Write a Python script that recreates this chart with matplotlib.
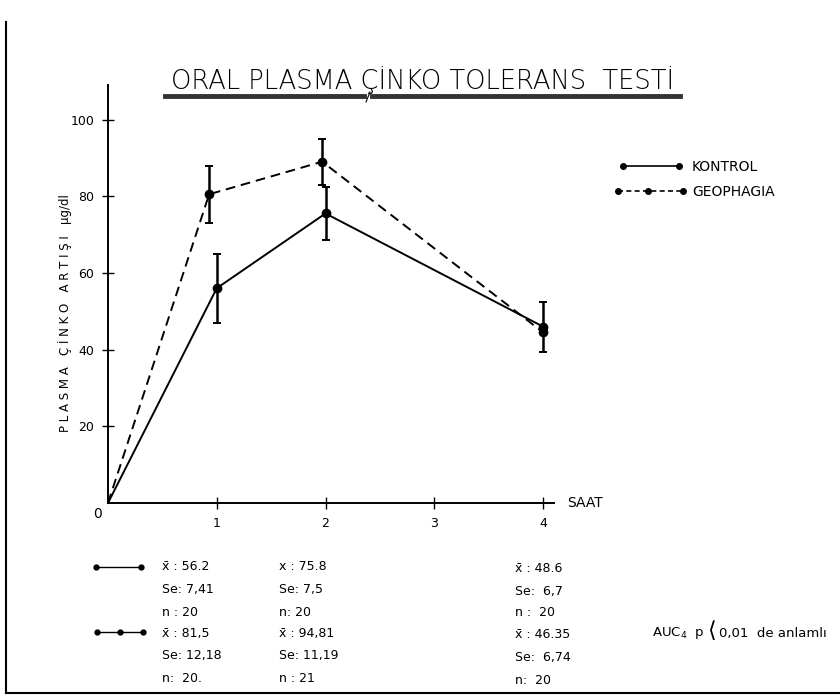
import matplotlib.pyplot as plt
from matplotlib.lines import Line2D

plt.rcParams['font.family'] = ['DejaVu Sans']

# hours and plotted values
kontrol_x = [0, 1, 2, 4]
kontrol_y = [0, 56, 75.5, 46]
kontrol_err = [0, 9, 7, 6.5]

geo_x = [0, 0.93, 1.97, 4]
geo_y = [0, 80.5, 89, 44.5]
geo_err = [0, 7.5, 6, 0]

y_ticks = [20, 40, 60, 80, 100]
x_ticks = [1, 2, 3, 4]

# summary statistics under the chart
kontrol_stats = [["x̄ : 56.2", "Se: 7,41", "n : 20"],
                 ["x : 75.8", "Se: 7,5", "n: 20"],
                 ["x̄ : 48.6", "Se:  6,7", "n :  20"]]
geo_stats = [["x̄ : 81,5", "Se: 12,18", "n:  20."],
             ["x̄ : 94,81", "Se: 11,19", "n : 21"],
             ["x̄ : 46.35", "Se:  6,74", "n:  20"]]

W, H = 840, 700
fig = plt.figure(figsize=(8.4, 7), dpi=100)


def fx(px):
    return px / W


def fy(py):
    return 1 - py / H


ax = fig.add_axes([fx(108), fy(503), 4.1 * 108.75 / W, 418 / H])
ax.set_xlim(0, 4.1)
ax.set_ylim(0, 109)

ax.plot(kontrol_x, kontrol_y, color='black', lw=1.4, marker='o', ms=6,
        markevery=[1, 2, 3], clip_on=False)
ax.errorbar(kontrol_x[1:], kontrol_y[1:], yerr=kontrol_err[1:], fmt='none',
            ecolor='black', elinewidth=1.8, capsize=3, capthick=1.4)
ax.plot(geo_x, geo_y, color='black', lw=1.4, ls=(0, (5, 3)), marker='o', ms=6,
        markevery=[1, 2, 3], clip_on=False)
ax.errorbar(geo_x[1:3], geo_y[1:3], yerr=geo_err[1:3], fmt='none',
            ecolor='black', elinewidth=1.8, capsize=3, capthick=1.4)

for s in ['top', 'right']:
    ax.spines[s].set_visible(False)
for s in ['left', 'bottom']:
    ax.spines[s].set_linewidth(1.4)

ax.set_yticks(y_ticks)
ax.set_yticklabels([str(v) for v in y_ticks])
ax.set_xticks(x_ticks)
ax.set_xticklabels([str(v) for v in x_ticks])
ax.tick_params(direction='inout', length=8, width=1, labelsize=9, pad=6)
ax.text(-0.06, -1, "0", ha='right', va='top', fontsize=10, clip_on=False)
ax.text(4.22, 0, "SAAT", ha='left', va='center', fontsize=10, clip_on=False)

# y label
fig.text(fx(65), fy(313), "P L A S M A   Ç İ N K O   A R T I Ş I   μg/dl",
         rotation=90, ha='center', va='center', fontsize=8.5)

# title with thick underline
fig.text(fx(423), fy(89), "ORAL PLASMA ÇİNKO TOLERANS  TESTİ",
         ha='center', va='baseline', fontsize=18.5, fontweight='light')
fig.add_artist(Line2D([fx(165), fx(364)], [fy(96), fy(96)], color='#333333', lw=3.5))
fig.add_artist(Line2D([fx(372), fx(680)], [fy(96), fy(96)], color='#333333', lw=3.5))
fig.add_artist(Line2D([fx(366), fx(370)], [fy(102), fy(92)], color='black', lw=0.8))

# legend at upper right
fig.add_artist(Line2D([fx(623), fx(679)], [fy(166), fy(166)], color='black', lw=1.2,
                      marker='o', ms=4))
fig.add_artist(Line2D([fx(618), fx(648), fx(683)], [fy(191)] * 3, color='black', lw=1.2,
                      ls=(0, (3, 2)), marker='o', ms=4))
fig.text(fx(692), fy(167), "KONTROL", ha='left', va='center', fontsize=10)
fig.text(fx(692), fy(192), "GEOPHAGIA", ha='left', va='center', fontsize=10)

# statistics block
fig.add_artist(Line2D([fx(96), fx(141)], [fy(567), fy(567)], color='black', lw=1,
                      marker='o', ms=3.5))
fig.add_artist(Line2D([fx(97), fx(120), fx(143)], [fy(632)] * 3, color='black', lw=1,
                      marker='o', ms=3.5))
col_x = [162, 279, 515]
row_y1 = [[566, 590, 612], [566, 590, 612], [568, 592, 613]]
row_y2 = [[633, 656, 679], [633, 656, 679], [634, 657, 681]]
for i in range(3):
    for j in range(3):
        fig.text(fx(col_x[i]), fy(row_y1[i][j]), kontrol_stats[i][j],
                 ha='left', va='center', fontsize=9)
        fig.text(fx(col_x[i]), fy(row_y2[i][j]), geo_stats[i][j],
                 ha='left', va='center', fontsize=9)

fig.text(fx(652), fy(633), "AUC$_{4}$  p", ha='left', va='center', fontsize=9.5)
fig.text(fx(707), fy(631), "⟨", ha='left', va='center', fontsize=16)
fig.text(fx(719), fy(633), "0,01  de anlamlı", ha='left', va='center', fontsize=9.5)

# page frame
fig.add_artist(Line2D([fx(6), fx(6)], [fy(22), fy(693)], color='black', lw=1.5))
fig.add_artist(Line2D([fx(6), fx(840)], [fy(693), fy(693)], color='black', lw=1.5))

fig.savefig("out.png", dpi=100)
